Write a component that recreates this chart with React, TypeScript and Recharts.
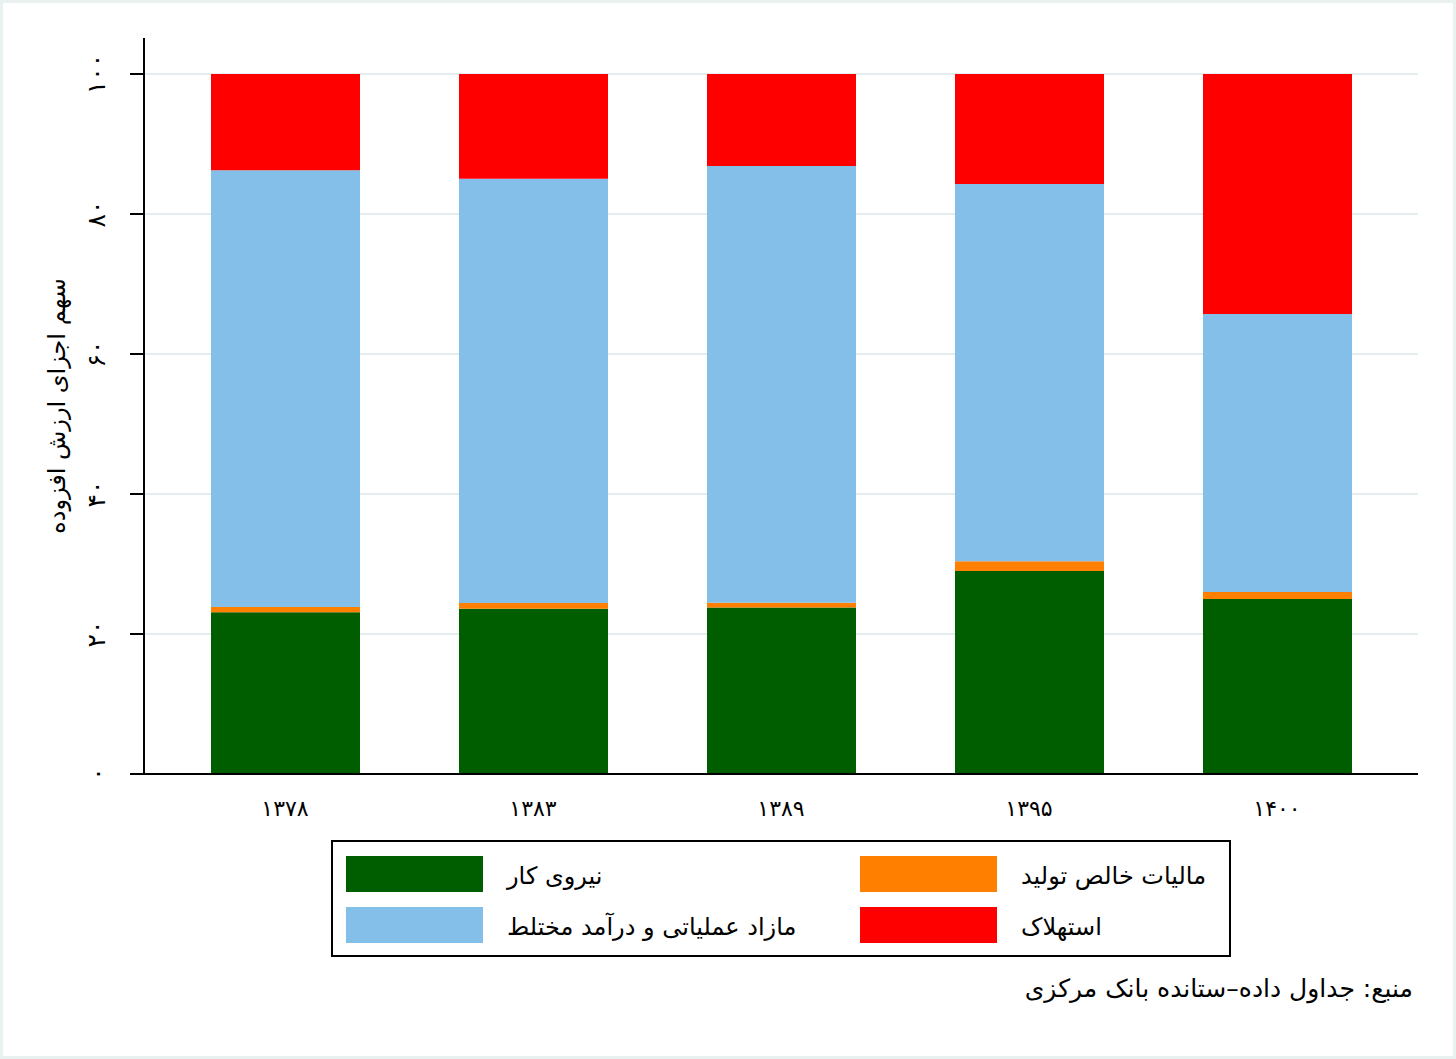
import React from "react";
import { BarChart, Bar, XAxis, YAxis, CartesianGrid } from "recharts";

const years = ["۱۳۷۸", "۱۳۸۳", "۱۳۸۹", "۱۳۹۵", "۱۴۰۰"];
const labor = [23.1, 23.6, 23.8, 29.0, 25.0];
const netTax = [0.76, 0.82, 0.66, 1.4, 1.0];
const surplus = [62.4, 60.6, 62.4, 53.9, 39.7];
const depreciation = [13.74, 14.98, 13.14, 15.7, 34.3];
const yTicks = [0, 20, 40, 60, 80, 100];
const yTickLabels = ["۰", "۲۰", "۴۰", "۶۰", "۸۰", "۱۰۰"];

const seriesNames = {
  labor: "نیروی کار",
  netTax: "مالیات خالص تولید",
  surplus: "مازاد عملیاتی و درآمد مختلط",
  depreciation: "استهلاک",
};
const colors = {
  labor: "#005e00",
  netTax: "#ff7f00",
  surplus: "#83bfe9",
  depreciation: "#ff0000",
};

const data = years.map((y, i) => ({
  year: y,
  labor: labor[i],
  netTax: netTax[i],
  surplus: surplus[i],
  depreciation: depreciation[i],
}));

const FONT = "'DejaVu Sans', sans-serif";

const YTick = (props: any) => {
  const { y, payload } = props;
  const idx = yTicks.indexOf(payload.value);
  const label = idx >= 0 ? yTickLabels[idx] : String(payload.value);
  return (
    <text
      x={97}
      y={y}
      transform={`rotate(-90, 97, ${y})`}
      textAnchor="middle"
      dominantBaseline="central"
      fontSize={25}
      fontFamily={FONT}
      fill="#000"
    >
      {label}
    </text>
  );
};

const XTick = (props: any) => {
  const { x, payload } = props;
  return (
    <text
      x={x}
      y={808}
      textAnchor="middle"
      dominantBaseline="central"
      fontSize={22}
      fontFamily={FONT}
      fill="#000"
    >
      {payload.value}
    </text>
  );
};

const LegendItem = ({ color, label, left, top }: any) => (
  <div style={{ position: "absolute", left, top, height: 36, display: "flex", alignItems: "center" }}>
    <div style={{ width: 137, height: 36, background: color }} />
    <div
      style={{
        marginLeft: 24,
        fontFamily: FONT,
        fontSize: 24,
        color: "#000",
        whiteSpace: "nowrap",
        direction: "rtl",
        marginTop: 4,
      }}
    >
      {label}
    </div>
  </div>
);

export default function App() {
  return (
    <div
      style={{
        position: "absolute",
        left: 0,
        top: 0,
        width: 1456,
        height: 1059,
        background: "#ffffff",
        boxSizing: "border-box",
        border: "3px solid #e8f0f0",
      }}
    >
      <div style={{ position: "absolute", left: -3, top: -3 }}>
        <BarChart
          width={1456}
          height={1059}
          data={data}
          margin={{ top: 38, right: 38, bottom: 225, left: 0 }}
          barSize={149}
        >
          <CartesianGrid
            horizontal={true}
            vertical={false}
            stroke="#e4edf0"
            strokeWidth={2}
            horizontalValues={[20, 40, 60, 80, 100]}
          />
          <XAxis
            dataKey="year"
            height={60}
            tickLine={false}
            axisLine={{ stroke: "#000", strokeWidth: 2 }}
            padding={{ left: 17, right: 17 }}
            tick={<XTick />}
            interval={0}
          />
          <YAxis
            width={144}
            domain={[0, 105.14]}
            ticks={yTicks}
            allowDataOverflow={true}
            tickSize={14}
            tickLine={{ stroke: "#000", strokeWidth: 2 }}
            axisLine={{ stroke: "#000", strokeWidth: 2 }}
            tick={<YTick />}
            label={{
              value: "سهم اجزای ارزش افزوده",
              angle: -90,
              position: "insideLeft",
              offset: 0,
              style: {
                fontFamily: FONT,
                fontSize: 24,
                fill: "#000",
                textAnchor: "middle",
              },
              dx: 56,
            }}
          />
          <Bar dataKey="labor" name={seriesNames.labor} stackId="a" fill={colors.labor} isAnimationActive={false} />
          <Bar dataKey="netTax" name={seriesNames.netTax} stackId="a" fill={colors.netTax} isAnimationActive={false} />
          <Bar dataKey="surplus" name={seriesNames.surplus} stackId="a" fill={colors.surplus} isAnimationActive={false} />
          <Bar dataKey="depreciation" name={seriesNames.depreciation} stackId="a" fill={colors.depreciation} isAnimationActive={false} />
        </BarChart>
        <div
          style={{
            position: "absolute",
            left: 331,
            top: 840,
            width: 900,
            height: 117,
            border: "2px solid #000",
            boxSizing: "border-box",
          }}
        >
          <LegendItem color={colors.labor} label={seriesNames.labor} left={13} top={14} />
          <LegendItem color={colors.netTax} label={seriesNames.netTax} left={527} top={14} />
          <LegendItem color={colors.surplus} label={seriesNames.surplus} left={13} top={65} />
          <LegendItem color={colors.depreciation} label={seriesNames.depreciation} left={527} top={65} />
        </div>
        <div
          style={{
            position: "absolute",
            right: 1456 - 1413,
            top: 974,
            fontFamily: FONT,
            fontSize: 25,
            color: "#000",
            whiteSpace: "nowrap",
            direction: "rtl",
          }}
        >
          منبع: جداول داده–ستانده بانک مرکزی
        </div>
      </div>
    </div>
  );
}
